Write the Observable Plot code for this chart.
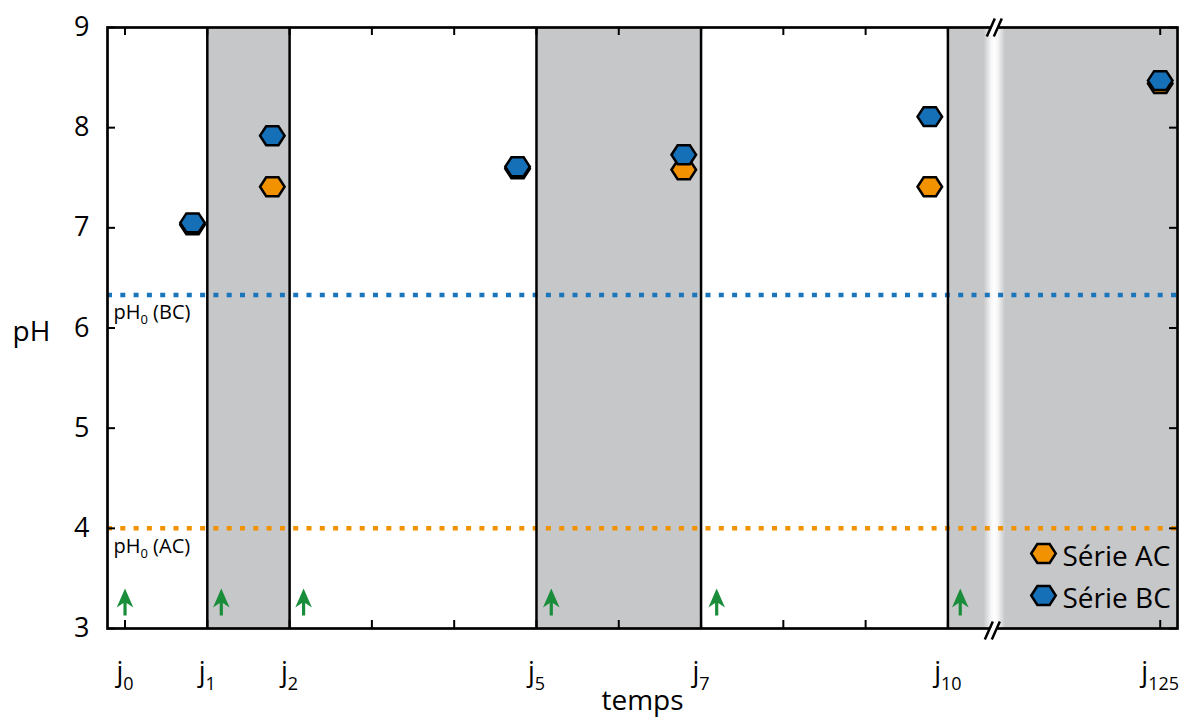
<!DOCTYPE html>
<html>
<head>
<meta charset="utf-8">
<script src="https://cdn.jsdelivr.net/npm/d3@7"></script>
<script src="https://cdn.jsdelivr.net/npm/@observablehq/plot@0.6"></script>
<style>
  html, body { margin: 0; padding: 0; background: white; }
  #chart { width: 1186px; height: 717px; }
</style>
</head>
<body>
<div id="chart"></div>
<script>
// ---- Data ----
const majorDays = [0, 1, 2, 5, 7, 10, 125];
const majorLabels = ["0", "1", "2", "5", "7", "10", "125"];
const minorDays = [3, 4, 6, 8, 9];
const yTicks = [3, 4, 5, 6, 7, 8, 9];
const sampleDays = [0.82, 1.79, 4.77, 6.79, 9.78, 125];
const phAC = [7.03, 7.41, 7.59, 7.58, 7.41, 8.44];
const phBC = [7.05, 7.92, 7.61, 7.73, 8.11, 8.47];
const seriesNames = ["Série AC", "Série BC"];
const seriesColors = ["#f39200", "#1670b8"];
const baselineLabels = ["pH_0 (BC)", "pH_0 (AC)"];
const baselinePH = [6.33, 4.0];
const baselineColors = ["#1b75bb", "#f39200"];
const shadedStart = [1, 5, 10];
const shadedEnd = [2, 7, 129];
const dividerDays = [1, 2, 5, 7, 10];
const arrowDays = [0, 1.17, 2.17, 5.18, 7.19, 10.15];
const breakAt = 10.57;

// broken time axis: days after the break are compressed next to j125
const pos = d => d <= breakAt ? d : 12.58 + (d - 125) * 0.05;

const rows = sampleDays.flatMap((d, i) => [
  {day: d, ph: phAC[i], series: seriesNames[0]},
  {day: d, ph: phBC[i], series: seriesNames[1]}
]);
const baselines = baselinePH.map((v, i) => ({ph: v, label: baselineLabels[i], color: baselineColors[i]}));
const bands = shadedStart.map((s, i) => ({start: s, end: shadedEnd[i]}));
const labelByPos = new Map(majorDays.map((d, i) => [pos(d), "j_" + majorLabels[i]]));

// ---- Custom symbols ----
const hexSymbol = {
  draw(ctx, size) {
    const s = Math.sqrt(size / Math.PI);
    const a = 1.17 * s, b = 0.9 * s;
    ctx.moveTo(-a, 0); ctx.lineTo(-a / 2, -b); ctx.lineTo(a / 2, -b);
    ctx.lineTo(a, 0); ctx.lineTo(a / 2, b); ctx.lineTo(-a / 2, b); ctx.closePath();
  }
};
const arrowSymbol = {
  draw(ctx) {
    ctx.moveTo(0, -13); ctx.lineTo(8.3, 6); ctx.lineTo(1.6, 1.5); ctx.lineTo(1.6, 14);
    ctx.lineTo(-1.6, 14); ctx.lineTo(-1.6, 1.5); ctx.lineTo(-8.3, 6); ctx.closePath();
  }
};
const breakGap = {
  draw(ctx) {
    ctx.moveTo(-7, 8); ctx.lineTo(1, -8); ctx.lineTo(7, -8); ctx.lineTo(-1, 8); ctx.closePath();
  }
};
const breakSlashes = {
  draw(ctx) {
    ctx.moveTo(-8, 9); ctx.lineTo(0, -9);
    ctx.moveTo(-1, 9); ctx.lineTo(7, -9);
  }
};

const frameH = 717 - 27 - 89;
const frameW = 1186 - 107 - 9;
const allXTicks = majorDays.concat(minorDays).map(pos);

const legendMarks = seriesNames.flatMap((s, i) => [
  Plot.dot([s], {frameAnchor: "bottom-right", dx: -134, dy: -75 + 42 * i, fill: d => d,
    symbol: hexSymbol, r: 10.5, stroke: "black", strokeWidth: 2.5}),
  Plot.text([s], {frameAnchor: "bottom-right", dx: -115, dy: -71 + 42 * i, text: d => d,
    textAnchor: "start", lineAnchor: "middle", fontSize: 28, fill: "black"})
]);

const chart = Plot.plot({
  width: 1186,
  height: 717,
  marginTop: 27,
  marginBottom: 89,
  marginLeft: 107,
  marginRight: 9,
  x: {domain: [-0.213, 12.79]},
  y: {domain: [3, 9]},
  color: {domain: seriesNames, range: seriesColors},
  style: {fontFamily: "'Open Sans', 'Noto Sans', sans-serif", fontSize: "26px", background: "white", color: "black"},
  marks: [
    Plot.rect(bands, {x1: d => pos(d.start), x2: d => pos(d.end), fill: "#c6c7c9"}),
    Plot.rect([breakAt], {x1: d => d - 0.13, x2: d => d + 0.13, fill: "url(#brkgrad)"}),
    Plot.ruleY(baselines, {y: "ph", stroke: d => d.color, strokeWidth: 4.5, strokeDasharray: "5,8.3"}),
    Plot.ruleX(dividerDays.map(pos), {x: d => d, stroke: "black", strokeWidth: 2.5}),
    Plot.frame({stroke: "black", strokeWidth: 2.7}),
    Plot.tickX(allXTicks, {x: d => d, insetTop: frameH - 8, stroke: "black", strokeWidth: 2}),
    Plot.tickX(allXTicks, {x: d => d, insetBottom: frameH - 8, stroke: "black", strokeWidth: 2}),
    Plot.tickY(yTicks, {y: d => d, insetRight: frameW - 8, stroke: "black", strokeWidth: 2}),
    Plot.tickY(yTicks, {y: d => d, insetLeft: frameW - 8, stroke: "black", strokeWidth: 2}),
    Plot.dot(arrowDays, {x: d => d, frameAnchor: "bottom", dy: -27, symbol: arrowSymbol, r: 1, fill: "#1a8d3a", stroke: "none"}),
    Plot.text(baselines, {y: "ph", frameAnchor: "left", dx: 6, dy: 18, text: "label", textAnchor: "start", lineAnchor: "middle", fontSize: 20, fill: "black"}),
    Plot.dot(rows, {x: d => pos(d.day), y: "ph", fill: "series", symbol: hexSymbol, r: 10.5, stroke: "black", strokeWidth: 2.5}),
    ...legendMarks,
    Plot.dot([breakAt], {x: d => d, frameAnchor: "top", symbol: breakGap, r: 1, fill: "white", stroke: "none"}),
    Plot.dot([breakAt], {x: d => d, frameAnchor: "top", symbol: breakSlashes, r: 1, fill: "none", stroke: "black", strokeWidth: 2.5}),
    Plot.dot([breakAt], {x: d => d, frameAnchor: "bottom", dx: -2, dy: 2, symbol: breakGap, r: 1, fill: "white", stroke: "none"}),
    Plot.dot([breakAt], {x: d => d, frameAnchor: "bottom", dx: -2, dy: 2, symbol: breakSlashes, r: 1, fill: "none", stroke: "black", strokeWidth: 2.5}),
    Plot.axisY({ticks: yTicks, tickSize: 0, tickPadding: 18, fontSize: 27, label: null, tickFormat: d => String(d)}),
    Plot.axisX({ticks: majorDays.map(pos), tickSize: 0, tickPadding: 33, fontSize: 27, label: null,
      tickFormat: d => labelByPos.get(d)}),
    Plot.text(["pH"], {frameAnchor: "left", dx: -76, dy: 4, text: d => d, textAnchor: "middle", lineAnchor: "middle", fontSize: 28, fill: "black"}),
    Plot.text(["temps"], {frameAnchor: "bottom", dy: 73, text: d => d, textAnchor: "middle", lineAnchor: "middle", fontSize: 28, fill: "black"})
  ]
});

document.getElementById("chart").append(chart);

// gradient for the axis break band
const svgNS = "http://www.w3.org/2000/svg";
const svg = chart.tagName.toLowerCase() === "svg" ? chart : chart.querySelector("svg");
const defs = document.createElementNS(svgNS, "defs");
defs.innerHTML = `<linearGradient id="brkgrad" x1="0" x2="1" y1="0" y2="0">
  <stop offset="0" stop-color="white" stop-opacity="0"/>
  <stop offset="0.35" stop-color="white" stop-opacity="0.85"/>
  <stop offset="0.5" stop-color="white" stop-opacity="1"/>
  <stop offset="0.65" stop-color="white" stop-opacity="0.85"/>
  <stop offset="1" stop-color="white" stop-opacity="0"/>
</linearGradient>`;
svg.insertBefore(defs, svg.firstChild);

// subscripts: "a_b rest" -> a<sub>b</sub> rest
function subify(el, subSize, shift) {
  const m = el.textContent.match(/^(.*?)_(\d+)(.*)$/);
  if (!m) return;
  el.textContent = "";
  el.appendChild(document.createTextNode(m[1]));
  const sub = document.createElementNS(svgNS, "tspan");
  sub.setAttribute("dy", shift);
  sub.setAttribute("font-size", subSize);
  sub.textContent = m[2];
  el.appendChild(sub);
  if (m[3]) {
    const rest = document.createElementNS(svgNS, "tspan");
    rest.setAttribute("dy", -shift);
    rest.textContent = m[3];
    el.appendChild(rest);
  }
}
svg.querySelectorAll("text").forEach(t => {
  if (!t.textContent.includes("_")) return;
  if (t.textContent.startsWith("j")) subify(t, 18, 9);
  else subify(t, 13, 5);
});
</script>
</body>
</html>
